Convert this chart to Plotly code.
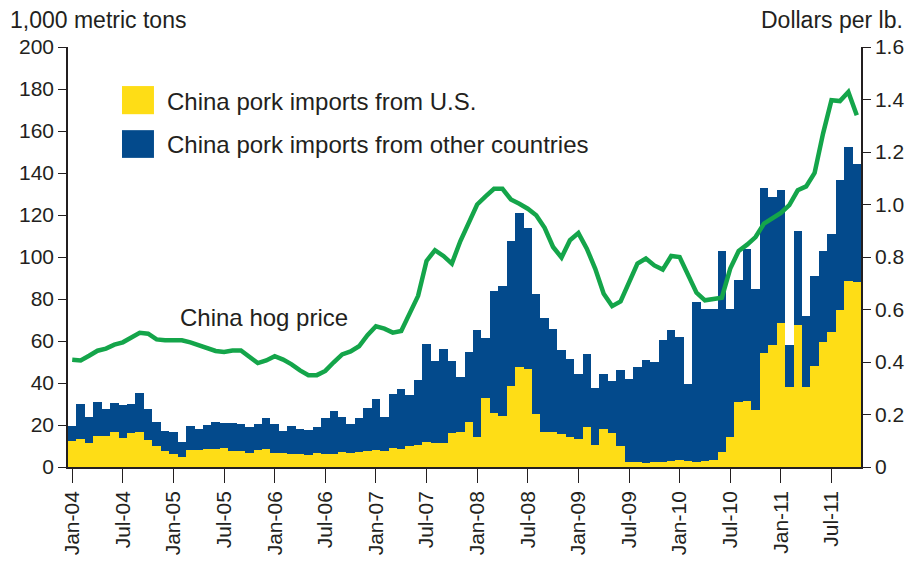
import plotly.graph_objects as go
import pandas as pd

months = list(pd.date_range("2004-01-01", periods=94, freq="MS").strftime("%b-%y"))

total_imports = [19.5, 29.8, 23.8, 31.1, 27.5, 30.6, 29.7, 30.2, 35.4, 27.5, 21.3, 17.3,
                 16.7, 12.1, 19.5, 18.3, 20.0, 21.3, 21.0, 21.1, 20.3, 19.0, 20.7, 23.5,
                 20.3, 17.1, 19.7, 18.0, 17.7, 18.9, 23.5, 26.7, 23.8, 20.3, 23.3, 28.1,
                 32.2, 23.8, 34.9, 37.1, 34.1, 41.3, 58.6, 50.5, 56.0, 50.3, 42.9, 54.6,
                 65.1, 61.3, 84.0, 86.0, 107.6, 121.0, 113.7, 82.2, 71.0, 65.7, 55.9, 51.3,
                 44.1, 54.0, 37.8, 44.1, 41.0, 46.0, 41.8, 47.6, 50.8, 50.0, 60.7, 65.4,
                 61.9, 39.7, 78.6, 75.4, 75.4, 102.7, 75.4, 88.9, 104.0, 84.9, 133.0, 128.6,
                 132.1, 58.3, 112.4, 72.1, 90.8, 102.7, 110.8, 136.5, 152.4, 144.1]

us_imports = [12.2, 13.3, 11.3, 14.6, 15.0, 16.8, 13.8, 16.2, 16.7, 12.7, 9.9, 7.5,
              6.2, 5.0, 8.0, 8.3, 8.8, 8.6, 9.1, 7.5, 7.5, 6.7, 8.0, 8.6,
              6.5, 6.9, 6.4, 6.0, 5.6, 6.5, 6.2, 6.2, 7.3, 6.8, 7.1, 7.5,
              8.3, 7.5, 9.0, 8.6, 9.8, 10.5, 11.8, 11.4, 11.6, 16.0, 16.6, 21.3,
              14.3, 32.9, 25.8, 24.4, 38.7, 47.7, 46.6, 25.2, 16.5, 16.5, 15.9, 14.5,
              13.5, 19.2, 10.5, 18.3, 16.0, 10.0, 2.4, 2.6, 2.1, 2.2, 2.4, 2.7,
              3.2, 2.7, 2.4, 2.9, 3.2, 7.3, 14.5, 31.0, 31.4, 27.0, 54.5, 58.3,
              68.6, 38.1, 67.5, 38.1, 48.1, 59.4, 64.3, 74.9, 88.4, 88.0]

hog_price = [0.409, 0.406, 0.424, 0.443, 0.451, 0.466, 0.475, 0.493, 0.511, 0.508, 0.486, 0.483,
             0.483, 0.483, 0.475, 0.464, 0.453, 0.442, 0.438, 0.444, 0.444, 0.419, 0.396, 0.406,
             0.422, 0.409, 0.391, 0.368, 0.350, 0.350, 0.366, 0.399, 0.429, 0.440, 0.460, 0.502,
             0.536, 0.527, 0.512, 0.518, 0.590, 0.652, 0.785, 0.826, 0.804, 0.775, 0.860, 0.927,
             1.000, 1.031, 1.060, 1.060, 1.019, 1.003, 0.984, 0.959, 0.911, 0.838, 0.798, 0.864,
             0.891, 0.832, 0.755, 0.660, 0.613, 0.631, 0.705, 0.775, 0.794, 0.768, 0.752, 0.804,
             0.800, 0.730, 0.664, 0.635, 0.641, 0.645, 0.756, 0.823, 0.847, 0.876, 0.927, 0.949,
             0.968, 0.998, 1.054, 1.069, 1.120, 1.270, 1.397, 1.394, 1.429, 1.340]

other_imports = [round(t - u, 1) for t, u in zip(total_imports, us_imports)]

x_tick_labels = ["Jan-04", "Jul-04", "Jan-05", "Jul-05", "Jan-06", "Jul-06", "Jan-07", "Jul-07",
                 "Jan-08", "Jul-08", "Jan-09", "Jul-09", "Jan-10", "Jul-10", "Jan-11", "Jul-11"]
left_ticks = [0, 20, 40, 60, 80, 100, 120, 140, 160, 180, 200]
right_ticks = [0, 0.2, 0.4, 0.6, 0.8, 1.0, 1.2, 1.4, 1.6]
right_tick_text = ["0", "0.2", "0.4", "0.6", "0.8", "1.0", "1.2", "1.4", "1.6"]

YELLOW = "#FEDD16"
BLUE = "#034A8C"
GREEN = "#14A54A"
TXT = "#231F20"
FONT = "Liberation Sans, Arial, Helvetica, sans-serif"

fig = go.Figure()
fig.add_trace(go.Bar(x=months, y=us_imports, name="China pork imports from U.S.",
                     marker=dict(color=YELLOW, line=dict(width=0)),
                     showlegend=False))
fig.add_trace(go.Bar(x=months, y=other_imports, name="China pork imports from other countries",
                     marker=dict(color=BLUE, line=dict(width=0)),
                     showlegend=False))
fig.add_trace(go.Scatter(x=months, y=hog_price, name="China hog price", yaxis="y2",
                         mode="lines", line=dict(color=GREEN, width=4.5), showlegend=False))

fig.update_layout(
    width=919, height=564,
    margin=dict(l=68, r=58, t=47, b=97, autoexpand=False),
    paper_bgcolor="white", plot_bgcolor="white",
    barmode="stack", bargap=0,
    font=dict(family=FONT, size=21, color=TXT),
    xaxis=dict(type="category", range=[-0.5, 93.5], tickmode="array", automargin=False,
               tickvals=x_tick_labels, ticktext=x_tick_labels, tickangle=-90,
               ticks="outside", ticklen=14, tickwidth=1.2, tickcolor=TXT,
               showline=True, linecolor=TXT, linewidth=1.5, showgrid=False,
               tickfont=dict(size=21, color=TXT)),
    yaxis=dict(range=[0, 200], tickvals=left_ticks, ticks="outside", ticklen=8, automargin=False,
               tickwidth=1.2, tickcolor=TXT, showline=True, linecolor=TXT, linewidth=1.5,
               showgrid=False, zeroline=False, tickfont=dict(size=21, color=TXT)),
    yaxis2=dict(range=[0, 1.6], overlaying="y", side="right", tickvals=right_ticks,
                ticktext=right_tick_text, ticks="outside", ticklen=8, tickwidth=1.2,
                automargin=False,
                tickcolor=TXT, showline=True, linecolor=TXT, linewidth=1.5,
                showgrid=False, zeroline=False, tickfont=dict(size=21, color=TXT)),
    shapes=[
        dict(type="rect", xref="paper", yref="paper", x0=0.0681, x1=0.1084, y0=0.840, y1=0.907,
             fillcolor=YELLOW, line=dict(width=0)),
        dict(type="rect", xref="paper", yref="paper", x0=0.0681, x1=0.1084, y0=0.736, y1=0.802,
             fillcolor=BLUE, line=dict(width=0)),
    ],
    annotations=[
        dict(text="China pork imports from U.S.", xref="paper", yref="paper", x=0.1223, y=0.871,
             xanchor="left", yanchor="middle", showarrow=False, font=dict(size=24, color=TXT)),
        dict(text="China pork imports from other countries", xref="paper", yref="paper",
             x=0.1223, y=0.767, xanchor="left", yanchor="middle", showarrow=False,
             font=dict(size=24, color=TXT)),
        dict(text="China hog price", xref="paper", yref="paper", x=0.1387, y=0.357,
             xanchor="left", yanchor="middle", showarrow=False, font=dict(size=24, color=TXT)),
        dict(text="1,000 metric tons", xref="paper", yref="paper", x=-0.0757, y=1.064,
             xanchor="left", yanchor="middle", showarrow=False, font=dict(size=23, color=TXT)),
        dict(text="Dollars per lb.", xref="paper", yref="paper", x=1.0555, y=1.064,
             xanchor="right", yanchor="middle", showarrow=False, font=dict(size=23, color=TXT)),
    ],
)

fig.write_html("out.html", config={"displayModeBar": False},
               post_script="document.body.style.margin='0px';")
